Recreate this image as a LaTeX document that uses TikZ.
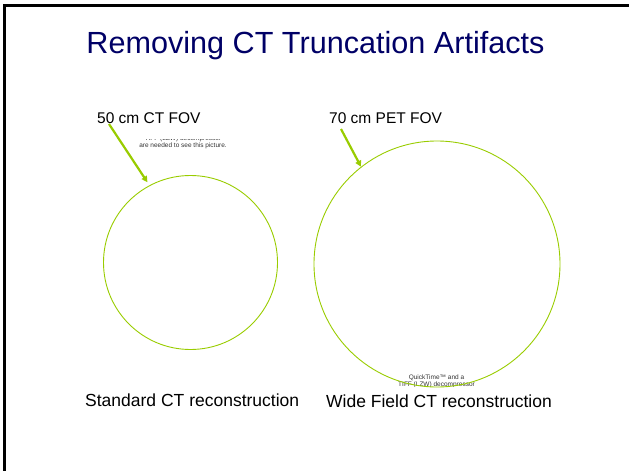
\documentclass[tikz,border=0pt]{standalone}
\usepackage{fontspec}
\setmainfont{Liberation Sans}
\usepackage{tikz}
\usetikzlibrary{arrows.meta}

\definecolor{fovgreen}{RGB}{153,204,0}
\definecolor{titleblue}{RGB}{0,0,102}

\begin{document}
\begin{tikzpicture}[x=1pt, y=-1pt,
  fovcircle/.style={circle, draw=fovgreen, line width=0.9pt, inner sep=0pt},
  fovarrow/.style={-{Triangle[length=6pt,width=6pt]}, line width=2.2pt, fovgreen},
  titletext/.style={anchor=base, inner sep=0pt, text=titleblue, font=\fontsize{30.6}{34}\selectfont},
  fovtext/.style={anchor=base west, inner sep=0pt, font=\fontsize{15.5}{18}\selectfont},
  recontext/.style={anchor=base west, inner sep=0pt, font=\fontsize{17.5}{20}\selectfont},
  qtnote/.style={anchor=base, inner sep=0pt, text=black!80, font=\fontsize{6.5}{7.5}\selectfont},
]

  % Parameters
  \def\rct{87}     % radius of CT field of view
  \def\rpet{123}   % radius of PET field of view

  \useasboundingbox (0,0) rectangle (629,471);

  % slide frame (left and top edges only)
  \draw[line width=3pt] (4.8,471) -- (4.8,5.5) -- (629,5.5);

  % Title
  \node[titletext] (title) at (315.5,53) {Removing CT Truncation Artifacts};

  % Labels of the fields of view
  \node[fovtext] (ctlabel) at (97,123) {50 cm CT FOV};
  \node[fovtext] (petlabel) at (329,123) {70 cm PET FOV};

  % missing picture notes (clipped)
  \begin{scope}
    \clip (120,139.3) rectangle (250,150);
    \node[qtnote] (qttopa) at (183,132.5) {QuickTime™ and a};
    \node[qtnote] (qttopb) at (183,140) {TIFF (LZW) decompressor};
    \node[qtnote] (qttopc) at (183,147.5) {are needed to see this picture.};
  \end{scope}
  \begin{scope}
    \clip (380,370) rectangle (500,386.5);
    \node[qtnote] (qtbota) at (436.5,379.5) {QuickTime™ and a};
    \node[qtnote] (qtbotb) at (436.5,386.5) {TIFF (LZW) decompressor};
  \end{scope}

  % Fields of view
  \node[fovcircle, minimum size=2*\rct pt] (ctfov) at (190.5,262.5) {};
  \node[fovcircle, minimum size=2*\rpet pt] (petfov) at (437,264) {};

  % Arrows
  \coordinate (ctstart) at (109,124);
  \coordinate (petstart) at (341,129);
  \draw[fovarrow] (ctstart) -- ([shift={(-2pt,3pt)}]ctfov.118);
  \draw[fovarrow] (petstart) -- (petfov.128);

  % Captions
  \node[recontext] (ctrecon) at (85,406) {Standard CT reconstruction};
  \node[recontext] (petrecon) at (326,407) {Wide Field CT reconstruction};

\end{tikzpicture}
\end{document}
